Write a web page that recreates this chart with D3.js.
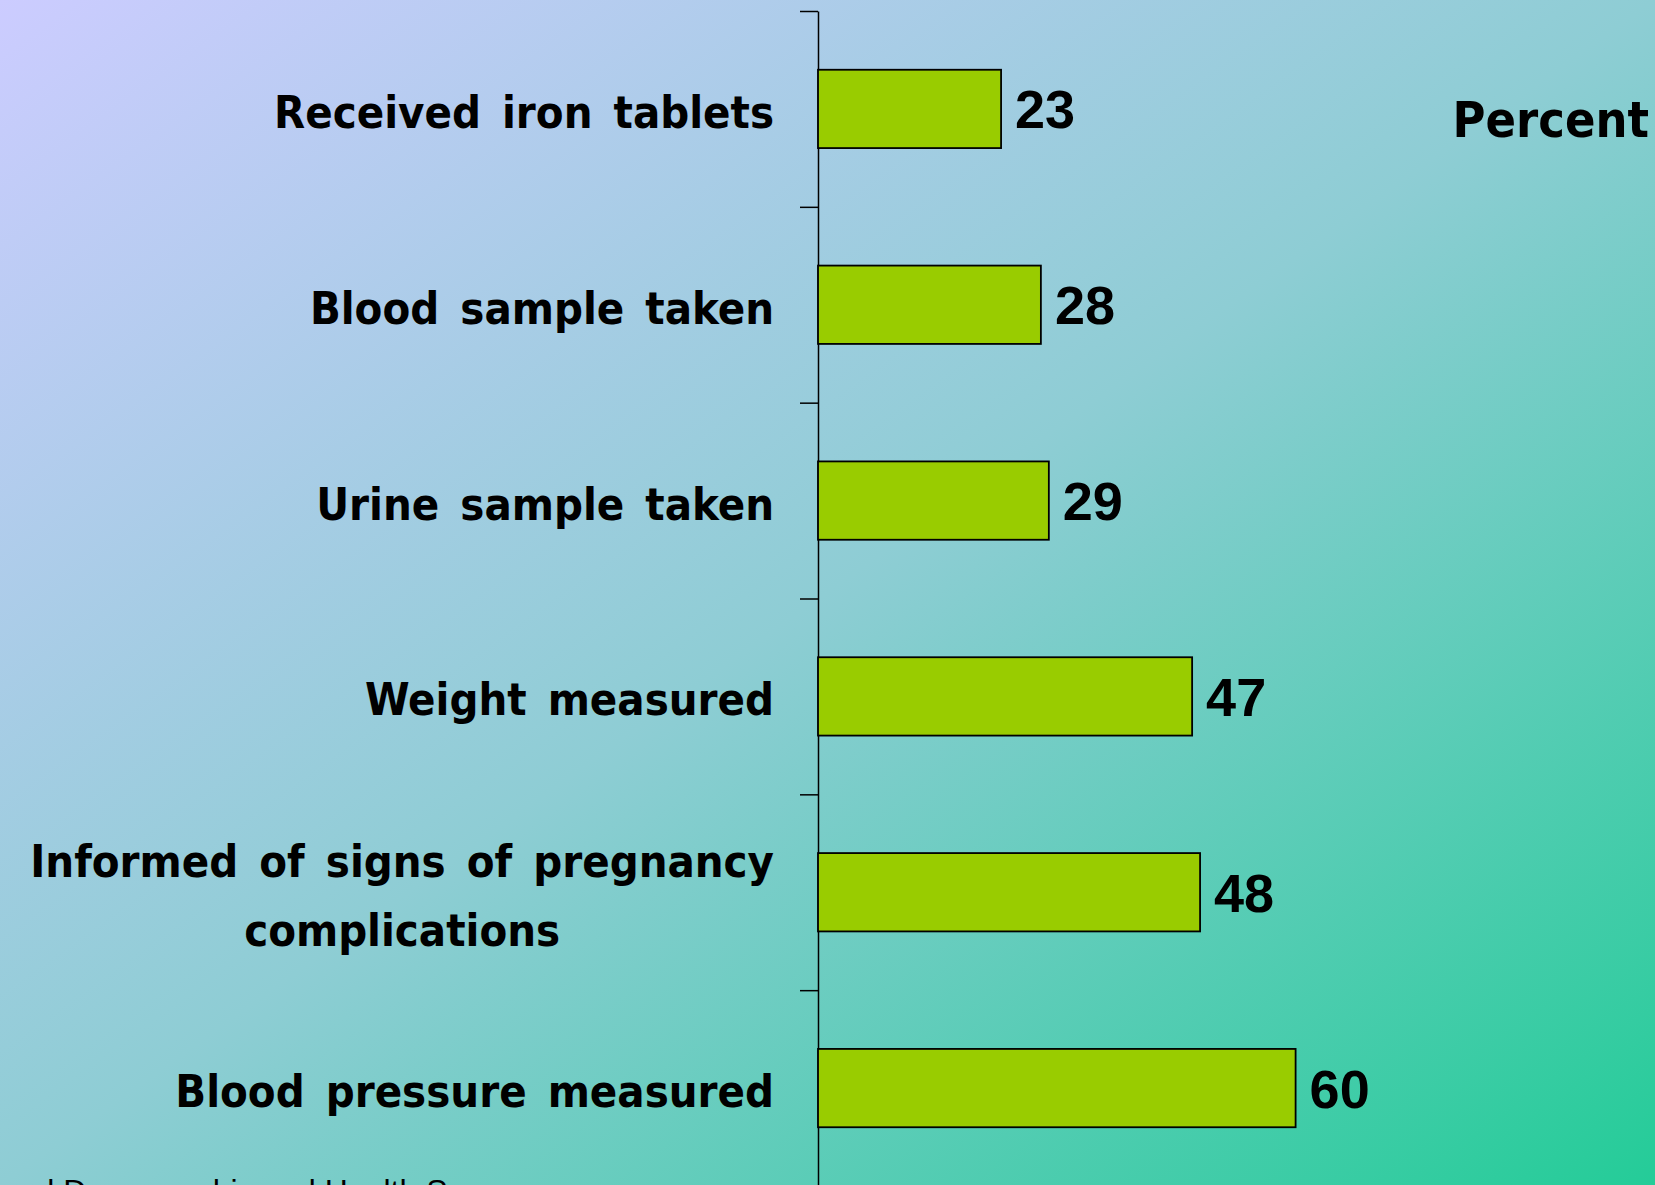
<!DOCTYPE html>
<html>
<head>
<meta charset="utf-8">
<script src="https://cdn.jsdelivr.net/npm/d3@7"></script>
<style>
  body { margin: 0; overflow: hidden; }
  .label { font-family: "Comic Sans MS", "DejaVu Sans", sans-serif; font-weight: bold; font-stretch: condensed; }
  .value { font-family: "Liberation Sans", Arial, sans-serif; font-weight: bold; }
</style>
</head>
<body>
<div id="chart"></div>
<script>
// data, top to bottom
var categories = ["Received iron tablets", "Blood sample taken", "Urine sample taken",
  "Weight measured", "Informed of signs of pregnancy\ncomplications", "Blood pressure measured"];
var values = [23, 28, 29, 47, 48, 60];
var axisTitle = "Percent";
var sourceText = "National Demographic and Health Survey";

var width = 1655, height = 1185;

var svg = d3.select("#chart")
  .append("svg")
  .attr("width", width)
  .attr("height", height);

// background gradient
var grad = svg.append("defs").append("linearGradient")
  .attr("id", "bg")
  .attr("x1", 0).attr("y1", 0).attr("x2", 1).attr("y2", 1);
grad.append("stop").attr("offset", 0).attr("stop-color", "#ccccff");
grad.append("stop").attr("offset", 0.5).attr("stop-color", "#8ecdd4");
grad.append("stop").attr("offset", 1).attr("stop-color", "#24cc98");

svg.append("rect")
  .attr("width", width).attr("height", height)
  .attr("fill", "url(#bg)");

// scales
var x = d3.scaleLinear().domain([0, 100]).range([818, 1614]);
var y = d3.scaleBand().domain(categories).range([11, 1186])
  .paddingInner(0.6).paddingOuter(0.3);
// tick positions sit on the band boundaries
var yTicks = d3.scaleLinear().domain([0, categories.length]).range([11, 1186]);

var yAxis = d3.axisLeft(yTicks)
  .ticks(categories.length)
  .tickFormat("")
  .tickSizeInner(18)
  .tickSizeOuter(0);

svg.append("g")
  .attr("class", "y axis")
  .attr("transform", "translate(" + x(0) + ",0)")
  .call(yAxis)
  .call(function(g) {
    g.selectAll("path, line").attr("stroke", "#000").attr("stroke-width", 1.5);
  });

// bars
svg.selectAll(".bar")
  .data(categories)
  .enter().append("rect")
  .attr("class", "bar")
  .attr("x", x(0))
  .attr("y", function(d) { return y(d); })
  .attr("width", function(d, i) { return x(values[i]) - x(0); })
  .attr("height", y.bandwidth())
  .attr("fill", "#99cc00")
  .attr("stroke", "#000")
  .attr("stroke-width", 1.8);

// value labels
svg.selectAll(".value")
  .data(categories)
  .enter().append("text")
  .attr("class", "value")
  .attr("x", function(d, i) { return x(values[i]) + 14; })
  .attr("y", function(d) { return y(d) + y.bandwidth() / 2; })
  .attr("dy", "0.36em")
  .attr("font-size", 54)
  .text(function(d, i) { return values[i]; });

// category labels
var labelRight = x(0) - 44;
svg.selectAll(".cat")
  .data(categories)
  .enter().append("text")
  .attr("class", "label cat")
  .attr("font-size", 45)
  .attr("word-spacing", 7)
  .each(function(d) {
    var lines = d.split("\n");
    var t = d3.select(this);
    var cy = y(d) + y.bandwidth() / 2 + 19;
    var first = t.append("tspan")
      .attr("x", labelRight)
      .attr("y", cy - (lines.length - 1) * 34.5)
      .attr("text-anchor", "end")
      .text(lines[0]);
    if (lines.length > 1) {
      var w = first.node().getComputedTextLength();
      var mid = labelRight - w / 2;
      lines.slice(1).forEach(function(l, k) {
        t.append("tspan")
          .attr("x", mid)
          .attr("y", cy - (lines.length - 1) * 34.5 + (k + 1) * 69)
          .attr("text-anchor", "middle")
          .text(l);
      });
    }
  });

// axis title
svg.append("text")
  .attr("class", "label")
  .attr("x", 1649)
  .attr("y", 137)
  .attr("text-anchor", "end")
  .attr("font-size", 50)
  .text(axisTitle);

// source note, mostly cut off at the bottom
svg.append("text")
  .attr("x", -63)
  .attr("y", 1202)
  .attr("font-family", "'Liberation Sans', Arial, sans-serif")
  .attr("font-size", 32)
  .attr("fill", "#000")
  .text(sourceText);
</script>
</body>
</html>
